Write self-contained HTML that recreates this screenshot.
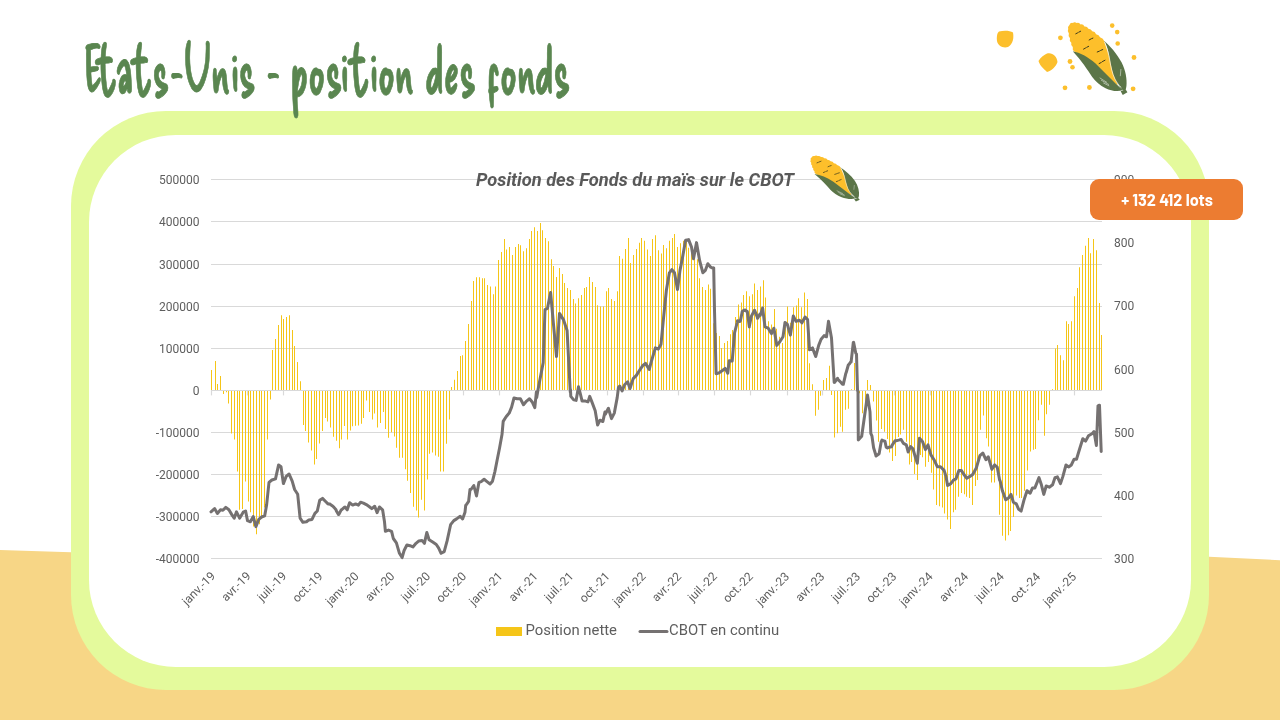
<!DOCTYPE html>
<html><head><meta charset="utf-8"><style>
html,body{margin:0;padding:0;width:1280px;height:720px;overflow:hidden;background:#fff;position:relative}
.abs{position:absolute}
#blob{left:0;top:0;width:1280px;height:720px}
#frame{left:71px;top:111px;width:1138px;height:579px;background:#e4fa9c;border-radius:95px}
#inner{left:89px;top:135px;width:1102px;height:532px;background:#fff;border-radius:87px}
svg text.tt{font-family:"Delicious Handrawn","Liberation Sans Narrow",sans-serif;font-size:67px;fill:#5a8650;stroke:#5a8650;stroke-width:0.8px}
svg text{font-family:Roboto,"Liberation Sans",sans-serif;white-space:pre}
.ax{font-size:12px;fill:#5e5e5e}
.ct{font-size:18.25px;font-weight:700;font-style:italic;fill:#595959}
.lg{font-size:14.85px;fill:#5e5e5e}
svg text.bd{font-family:Barlow,"Liberation Sans",sans-serif;font-weight:700;font-size:16.3px;fill:#fff}
</style></head><body>
<svg id="blob" class="abs" width="1280" height="720" viewBox="0 0 1280 720"><path fill="#f7d686" d="M0 550 L71 552.3 L640 556 L1209 556.8 L1280 560.2 L1280 720 L0 720Z"/></svg>
<div id="frame" class="abs"></div>
<div id="inner" class="abs"></div>
<svg class="abs" style="left:0;top:0" width="1280" height="720" viewBox="0 0 1280 720">
<g stroke="#d9d9d9" stroke-width="1">
<line x1="211" y1="179.5" x2="1102" y2="179.5"/>
<line x1="211" y1="221.5" x2="1102" y2="221.5"/>
<line x1="211" y1="264.5" x2="1102" y2="264.5"/>
<line x1="211" y1="306.5" x2="1102" y2="306.5"/>
<line x1="211" y1="348.5" x2="1102" y2="348.5"/>
<line x1="211" y1="390.5" x2="1102" y2="390.5"/>
<line x1="211" y1="432.5" x2="1102" y2="432.5"/>
<line x1="211" y1="474.5" x2="1102" y2="474.5"/>
<line x1="211" y1="516.5" x2="1102" y2="516.5"/>
<line x1="211" y1="558.5" x2="1102" y2="558.5"/>
</g>
<g stroke="#d9d9d9" stroke-width="1.2">
<line x1="211.5" y1="390.4" x2="211.5" y2="395.4"/>
<line x1="247.5" y1="390.4" x2="247.5" y2="395.4"/>
<line x1="283.5" y1="390.4" x2="283.5" y2="395.4"/>
<line x1="319.5" y1="390.4" x2="319.5" y2="395.4"/>
<line x1="355.5" y1="390.4" x2="355.5" y2="395.4"/>
<line x1="391.5" y1="390.4" x2="391.5" y2="395.4"/>
<line x1="427.5" y1="390.4" x2="427.5" y2="395.4"/>
<line x1="463.5" y1="390.4" x2="463.5" y2="395.4"/>
<line x1="499.5" y1="390.4" x2="499.5" y2="395.4"/>
<line x1="535.5" y1="390.4" x2="535.5" y2="395.4"/>
<line x1="571.5" y1="390.4" x2="571.5" y2="395.4"/>
<line x1="607.5" y1="390.4" x2="607.5" y2="395.4"/>
<line x1="643.5" y1="390.4" x2="643.5" y2="395.4"/>
<line x1="678.5" y1="390.4" x2="678.5" y2="395.4"/>
<line x1="714.5" y1="390.4" x2="714.5" y2="395.4"/>
<line x1="750.5" y1="390.4" x2="750.5" y2="395.4"/>
<line x1="787.5" y1="390.4" x2="787.5" y2="395.4"/>
<line x1="822.5" y1="390.4" x2="822.5" y2="395.4"/>
<line x1="858.5" y1="390.4" x2="858.5" y2="395.4"/>
<line x1="894.5" y1="390.4" x2="894.5" y2="395.4"/>
<line x1="930.5" y1="390.4" x2="930.5" y2="395.4"/>
<line x1="966.5" y1="390.4" x2="966.5" y2="395.4"/>
<line x1="1002.5" y1="390.4" x2="1002.5" y2="395.4"/>
<line x1="1038.5" y1="390.4" x2="1038.5" y2="395.4"/>
<line x1="1074.5" y1="390.4" x2="1074.5" y2="395.4"/>
</g>
<path fill="#f5c518" d="M211 369.9V390h1V369.9zM215 361.0V390h1V361.0zM217 383.9V390h1V383.9zM220 376.0V390h1V376.0zM223 391V394.0h1V391zM226 391V392.3h1V391zM228 391V403.5h1V391zM231 391V433.4h1V391zM234 391V439.4h1V391zM237 391V471.6h1V391zM239 391V509.8h1V391zM242 391V509.1h1V391zM245 391V481.6h1V391zM248 391V501.5h1V391zM250 391V512.2h1V391zM253 391V526.6h1V391zM256 391V534.2h1V391zM259 391V524.2h1V391zM261 391V517.0h1V391zM264 391V507.4h1V391zM267 391V439.4h1V391zM270 391V399.5h1V391zM272 349.9V390h1V349.9zM275 339.1V390h1V339.1zM278 325.1V390h1V325.1zM281 315.2V390h1V315.2zM283 319.1V390h1V319.1zM286 316.9V390h1V316.9zM289 315.2V390h1V315.2zM292 330.1V390h1V330.1zM294 345.9V390h1V345.9zM297 362.0V390h1V362.0zM300 381.2V390h1V381.2zM303 391V425.0h1V391zM305 391V431.0h1V391zM308 391V442.5h1V391zM311 391V450.6h1V391zM314 391V464.4h1V391zM316 391V459.0h1V391zM319 391V443.4h1V391zM322 391V431.0h1V391zM325 391V417.9h1V391zM327 391V421.4h1V391zM330 391V427.4h1V391zM333 391V436.7h1V391zM336 391V440.8h1V391zM339 391V448.3h1V391zM341 391V439.4h1V391zM344 391V426.0h1V391zM347 391V439.4h1V391zM350 391V430.5h1V391zM352 391V426.2h1V391zM355 391V425.8h1V391zM358 391V425.5h1V391zM361 391V423.8h1V391zM363 391V417.9h1V391zM366 391V400.4h1V391zM369 391V411.9h1V391zM372 391V419.5h1V391zM374 391V413.6h1V391zM377 391V427.4h1V391zM380 391V422.9h1V391zM383 391V411.9h1V391zM385 391V429.1h1V391zM388 391V437.7h1V391zM391 391V432.2h1V391zM394 391V436.5h1V391zM396 391V447.7h1V391zM399 391V457.8h1V391zM402 391V457.8h1V391zM405 391V469.2h1V391zM407 391V480.7h1V391zM410 391V493.1h1V391zM413 391V506.7h1V391zM416 391V510.6h1V391zM418 391V517.5h1V391zM421 391V499.8h1V391zM424 391V510.6h1V391zM427 391V479.5h1V391zM429 391V453.7h1V391zM432 391V452.5h1V391zM435 391V455.6h1V391zM438 391V456.8h1V391zM440 391V471.6h1V391zM443 391V471.6h1V391zM446 391V443.7h1V391zM449 391V419.5h1V391zM451 387.1V390h1V387.1zM454 379.8V390h1V379.8zM457 371.0V390h1V371.0zM460 356.1V390h1V356.1zM462 355.2V390h1V355.2zM465 341.1V390h1V341.1zM468 324.0V390h1V324.0zM471 301.1V390h1V301.1zM473 280.9V390h1V280.9zM476 277.2V390h1V277.2zM479 277.2V390h1V277.2zM482 278.2V390h1V278.2zM484 278.2V390h1V278.2zM487 285.1V390h1V285.1zM490 286.4V390h1V286.4zM493 294.2V390h1V294.2zM495 286.4V390h1V286.4zM498 260.0V390h1V260.0zM501 251.9V390h1V251.9zM504 239.1V390h1V239.1zM506 249.4V390h1V249.4zM509 247.0V390h1V247.0zM512 255.1V390h1V255.1zM515 247.0V390h1V247.0zM518 244.0V390h1V244.0zM520 245.3V390h1V245.3zM523 251.2V390h1V251.2zM526 248.2V390h1V248.2zM529 239.1V390h1V239.1zM531 231.0V390h1V231.0zM534 227.3V390h1V227.3zM537 231.0V390h1V231.0zM540 223.1V390h1V223.1zM542 230.2V390h1V230.2zM545 237.9V390h1V237.9zM548 241.3V390h1V241.3zM551 259.3V390h1V259.3zM553 265.9V390h1V265.9zM556 277.0V390h1V277.0zM559 267.9V390h1V267.9zM562 274.1V390h1V274.1zM564 283.1V390h1V283.1zM567 288.1V390h1V288.1zM570 290.0V390h1V290.0zM573 299.1V390h1V299.1zM575 303.6V390h1V303.6zM578 298.2V390h1V298.2zM581 295.0V390h1V295.0zM584 288.1V390h1V288.1zM586 286.9V390h1V286.9zM589 277.0V390h1V277.0zM592 281.9V390h1V281.9zM595 287.1V390h1V287.1zM597 305.3V390h1V305.3zM600 306.5V390h1V306.5zM603 306.5V390h1V306.5zM606 291.3V390h1V291.3zM608 288.1V390h1V288.1zM611 299.1V390h1V299.1zM614 301.1V390h1V301.1zM617 291.3V390h1V291.3zM619 256.1V390h1V256.1zM622 258.8V390h1V258.8zM625 248.9V390h1V248.9zM628 237.9V390h1V237.9zM630 263.0V390h1V263.0zM633 254.9V390h1V254.9zM636 248.9V390h1V248.9zM639 242.8V390h1V242.8zM641 237.9V390h1V237.9zM644 240.8V390h1V240.8zM647 249.4V390h1V249.4zM650 256.1V390h1V256.1zM652 239.1V390h1V239.1zM655 235.2V390h1V235.2zM658 250.2V390h1V250.2zM661 253.6V390h1V253.6zM663 245.0V390h1V245.0zM666 248.2V390h1V248.2zM669 240.8V390h1V240.8zM672 237.9V390h1V237.9zM674 233.9V390h1V233.9zM677 247.0V390h1V247.0zM680 243.3V390h1V243.3zM683 240.8V390h1V240.8zM686 239.1V390h1V239.1zM688 247.7V390h1V247.7zM691 251.9V390h1V251.9zM694 254.4V390h1V254.4zM697 259.3V390h1V259.3zM699 278.2V390h1V278.2zM702 287.1V390h1V287.1zM705 290.0V390h1V290.0zM708 284.4V390h1V284.4zM710 288.8V390h1V288.8zM713 323.3V390h1V323.3zM716 333.1V390h1V333.1zM719 336.1V390h1V336.1zM721 347.9V390h1V347.9zM724 342.9V390h1V342.9zM727 341.0V390h1V341.0zM730 334.3V390h1V334.3zM732 330.1V390h1V330.1zM735 317.1V390h1V317.1zM738 304.4V390h1V304.4zM741 302.4V390h1V302.4zM743 295.0V390h1V295.0zM746 291.3V390h1V291.3zM749 296.2V390h1V296.2zM752 294.2V390h1V294.2zM754 283.4V390h1V283.4zM757 290.0V390h1V290.0zM760 286.4V390h1V286.4zM763 280.2V390h1V280.2zM765 297.4V390h1V297.4zM768 321.3V390h1V321.3zM771 324.5V390h1V324.5zM774 309.0V390h1V309.0zM776 328.7V390h1V328.7zM779 336.8V390h1V336.8zM782 342.9V390h1V342.9zM785 326.9V390h1V326.9zM787 306.5V390h1V306.5zM790 322.8V390h1V322.8zM793 307.3V390h1V307.3zM796 305.5V390h1V305.5zM798 298.2V390h1V298.2zM801 307.3V390h1V307.3zM804 292.5V390h1V292.5zM807 299.1V390h1V299.1zM809 363.2V390h1V363.2zM812 384.2V390h1V384.2zM815 391V415.8h1V391zM818 391V409.7h1V391zM820 391V395.8h1V391zM823 380.0V390h1V380.0zM826 378.0V390h1V378.0zM829 365.8V390h1V365.8zM831 391V395.0h1V391zM834 391V437.5h1V391zM837 391V433.3h1V391zM840 391V426.7h1V391zM842 391V431.7h1V391zM845 391V409.7h1V391zM848 391V408.7h1V391zM851 389.2V390h1V389.2zM854 363.0V390h1V363.0zM856 381.7V390h1V381.7zM859 391V393.3h1V391zM862 391V413.3h1V391zM865 391V403.3h1V391zM867 380.0V390h1V380.0zM870 385.0V390h1V385.0zM873 391V401.4h1V391zM876 391V420.5h1V391zM878 391V441.7h1V391zM881 391V428.9h1V391zM884 391V431.8h1V391zM887 391V438.9h1V391zM889 391V452.5h1V391zM892 391V460.9h1V391zM895 391V456.1h1V391zM898 391V437.0h1V391zM900 391V434.6h1V391zM903 391V429.8h1V391zM906 391V441.8h1V391zM909 391V464.4h1V391zM911 391V462.1h1V391zM914 391V474.0h1V391zM917 391V480.0h1V391zM920 391V454.9h1V391zM922 391V457.3h1V391zM925 391V466.8h1V391zM928 391V462.1h1V391zM931 391V472.8h1V391zM933 391V489.5h1V391zM936 391V505.1h1V391zM939 391V506.3h1V391zM942 391V507.4h1V391zM944 391V513.4h1V391zM947 391V519.4h1V391zM950 391V529.0h1V391zM953 391V512.2h1V391zM955 391V509.8h1V391zM958 391V496.7h1V391zM961 391V493.1h1V391zM964 391V494.3h1V391zM966 391V496.7h1V391zM969 391V497.9h1V391zM972 391V505.1h1V391zM975 391V485.9h1V391zM977 391V480.0h1V391zM980 391V429.8h1V391zM983 391V415.5h1V391zM986 391V438.2h1V391zM988 391V446.5h1V391zM991 391V482.4h1V391zM994 391V482.4h1V391zM997 391V472.8h1V391zM999 391V514.7h1V391zM1002 391V535.7h1V391zM1005 391V540.5h1V391zM1008 391V535.3h1V391zM1010 391V531.0h1V391zM1013 391V517.1h1V391zM1016 391V495.6h1V391zM1019 391V498.0h1V391zM1021 391V498.0h1V391zM1024 391V490.8h1V391zM1027 391V470.5h1V391zM1030 391V451.4h1V391zM1033 391V449.7h1V391zM1035 391V449.0h1V391zM1038 391V420.3h1V391zM1041 391V404.7h1V391zM1044 391V435.8h1V391zM1046 391V414.3h1V391zM1049 391V404.7h1V391zM1052 389.3V390h1V389.3zM1055 348.4V390h1V348.4zM1057 345.0V390h1V345.0zM1060 355.3V390h1V355.3zM1063 360.2V390h1V360.2zM1066 321.3V390h1V321.3zM1068 324.1V390h1V324.1zM1071 321.3V390h1V321.3zM1074 296.2V390h1V296.2zM1077 288.1V390h1V288.1zM1079 267.2V390h1V267.2zM1082 254.9V390h1V254.9zM1085 245.8V390h1V245.8zM1088 237.9V390h1V237.9zM1090 253.2V390h1V253.2zM1093 239.1V390h1V239.1zM1096 250.2V390h1V250.2zM1099 303.1V390h1V303.1zM1101 335.1V390h1V335.1z"/>
<polyline fill="none" stroke="#757171" stroke-width="3" stroke-linejoin="round" stroke-linecap="round" points="211.0,511.8 214.6,508.6 217.4,513.4 220.5,509.8 222.9,510.3 225.8,507.4 228.9,509.8 231.8,514.6 234.2,518.2 236.5,511.8 239.6,518.2 243.2,512.2 245.6,511.0 247.5,520.6 250.4,521.8 253.3,516.5 255.9,526.6 258.8,519.4 261.6,517.0 264.7,515.8 266.6,505.1 269.0,482.4 271.9,480.0 275.5,478.8 278.6,464.9 281.0,466.8 283.4,483.6 286.2,476.4 289.1,474.0 292.2,481.2 294.6,489.5 297.7,494.3 300.1,518.2 302.9,522.3 306.5,521.8 308.9,519.9 312.0,519.4 314.9,513.4 317.3,511.0 319.7,500.3 322.5,498.4 325.6,501.5 328.0,503.9 330.0,503.9 330.4,504.6 332.9,506.3 334.0,507.4 336.0,509.8 336.4,511.0 338.6,514.6 338.8,514.6 341.2,509.8 341.5,509.8 344.3,507.4 345.0,507.0 347.2,509.8 349.6,502.7 352.7,505.1 355.6,503.9 358.4,505.1 360.6,502.2 363.4,503.1 366.3,504.6 369.4,506.7 371.8,508.6 374.7,506.3 377.1,512.7 379.4,507.0 382.6,509.8 384.5,521.8 385.4,531.3 388.5,530.1 391.6,531.3 393.3,538.5 396.4,542.8 399.3,552.9 402.1,557.6 404.1,550.5 406.9,545.0 410.0,545.7 412.9,546.9 416.0,543.3 418.9,540.9 422.0,540.4 424.4,543.3 426.8,532.5 429.1,539.7 432.7,542.1 436.3,544.5 438.7,548.1 441.1,553.3 444.2,551.6 447.1,540.9 450.6,524.7 453.8,520.6 456.6,518.9 460.2,516.3 462.6,518.9 465.0,512.2 465.7,505.5 466.9,503.9 468.1,502.2 468.6,501.5 470.0,489.5 471.0,489.5 473.8,485.5 476.5,496.0 478.9,482.4 481.2,481.6 484.1,479.3 487.0,481.6 490.1,484.0 492.5,481.2 494.9,471.6 497.2,459.7 499.6,447.7 502.0,434.6 503.2,421.4 506.1,416.7 509.2,413.1 511.6,407.1 514.0,398.0 517.1,398.8 520.4,398.8 523.5,404.7 526.6,401.1 529.5,398.8 532.4,402.3 534.8,407.6 536.4,392.1 536.7,397.6 538.1,389.2 543.2,362.6 545.0,309.7 547.4,308.5 550.6,292.5 553.6,325.7 556.5,356.5 559.5,313.4 563.4,319.6 567.1,330.6 570.3,392.1 570.4,389.2 570.8,396.4 573.7,399.9 576.1,400.4 578.5,386.8 580.1,392.8 582.1,401.1 585.6,401.1 588.0,401.9 589.7,396.4 591.6,401.1 595.2,410.7 597.6,425.0 600.0,420.2 602.4,421.4 602.9,421.4 605.0,411.9 605.3,414.3 608.4,408.3 611.5,418.6 614.3,413.1 617.2,397.6 618.5,387.2 619.7,386.0 622.1,390.9 624.6,384.8 627.6,381.8 630.0,388.5 633.2,378.6 636.4,375.4 639.4,370.5 643.1,365.1 645.5,363.4 649.2,369.5 651.7,360.2 655.4,347.9 658.3,349.1 661.0,344.2 663.5,318.3 666.4,290.0 669.4,272.8 671.9,269.6 674.5,272.8 677.5,289.6 680.0,270.4 682.4,258.1 685.6,240.3 688.6,239.6 691.5,247.0 693.5,258.8 696.5,242.6 699.6,260.5 702.9,272.8 705.3,270.4 707.8,263.7 710.7,267.2 713.3,268.5 713.7,267.9 714.5,310.4 716.1,373.8 719.1,372.8 722.1,370.8 725.2,368.4 727.8,373.2 729.2,360.7 732.2,361.1 734.6,332.6 737.2,322.5 737.5,320.8 739.9,321.5 740.4,320.8 742.3,311.4 743.6,310.5 745.3,310.0 746.1,311.0 747.3,311.4 749.3,326.9 749.3,326.5 751.3,316.4 752.2,314.6 754.4,310.4 754.7,310.5 757.4,317.4 757.6,318.3 760.0,314.0 760.3,315.4 762.6,308.0 765.0,326.9 768.2,328.2 771.4,333.6 773.9,328.2 776.8,345.4 779.8,341.7 783.0,336.8 785.0,322.5 787.4,324.5 790.4,335.1 793.3,315.9 796.0,321.3 799.5,320.3 801.9,322.8 805.1,317.1 807.6,319.6 809.5,349.8 812.5,347.9 815.7,356.5 818.7,345.4 821.1,339.2 824.1,335.6 826.5,336.8 828.5,321.3 831.5,338.0 834.2,382.5 834.6,382.3 837.5,378.3 837.9,379.4 840.8,382.3 842.5,384.2 843.3,384.3 845.8,373.3 846.2,372.5 848.3,365.0 849.4,363.9 850.8,361.7 851.1,362.1 853.3,342.5 853.6,342.4 855.8,353.3 856.5,354.0 857.5,390.0 858.0,392.1 858.3,440.0 861.7,436.3 867.5,395.0 870.0,411.9 870.8,433.3 871.9,435.8 873.6,447.7 875.8,455.0 876.0,456.1 879.1,453.7 879.2,453.3 881.2,441.8 882.0,440.0 883.9,441.0 885.0,441.3 886.2,447.2 887.5,448.0 889.1,447.2 891.7,446.7 892.0,445.3 895.0,440.8 895.1,441.0 898.7,440.1 901.1,439.4 903.5,443.4 906.3,444.9 908.2,452.0 910.6,446.5 913.0,448.9 915.4,457.3 917.3,463.3 919.5,438.2 922.6,441.8 925.4,449.6 928.0,444.9 930.9,454.9 934.0,459.7 937.4,466.8 940.5,466.8 944.1,470.4 946.0,476.4 947.6,485.5 950.8,483.6 953.6,480.0 956.0,478.8 958.9,470.4 961.3,470.4 963.6,474.0 966.8,478.3 969.9,476.4 972.7,474.5 976.3,468.0 979.9,455.6 982.8,453.0 985.9,459.7 988.3,456.8 991.8,469.2 991.9,469.3 994.7,464.9 994.8,465.0 996.6,466.8 997.2,466.9 999.6,480.0 1000.2,481.2 1002.4,490.8 1003.3,493.1 1005.5,499.2 1005.7,499.8 1007.9,498.4 1008.6,497.9 1010.0,496.0 1011.0,494.4 1013.4,502.3 1016.3,503.9 1018.7,509.4 1021.1,511.1 1023.9,500.4 1027.0,490.8 1030.2,493.2 1032.5,487.9 1034.9,487.9 1036.6,483.6 1039.0,477.6 1041.4,484.8 1043.8,494.4 1046.2,486.0 1049.3,487.2 1052.6,484.8 1055.0,477.6 1057.4,476.9 1060.5,483.6 1062.9,476.4 1066.0,465.0 1068.9,466.9 1071.3,465.0 1074.1,459.2 1076.5,459.2 1079.6,449.0 1082.8,438.7 1085.6,441.1 1088.5,435.8 1092.3,433.4 1094.0,431.5 1096.4,445.4 1098.0,405.9 1099.5,405.2 1101.2,451.4"/>
<g class="ax" text-anchor="end">
<text x="199.5" y="184.0" textLength="40.47" lengthAdjust="spacingAndGlyphs">500000</text>
<text x="199.5" y="226.0" textLength="40.47" lengthAdjust="spacingAndGlyphs">400000</text>
<text x="199.5" y="269.0" textLength="40.47" lengthAdjust="spacingAndGlyphs">300000</text>
<text x="199.5" y="311.0" textLength="40.47" lengthAdjust="spacingAndGlyphs">200000</text>
<text x="199.5" y="353.0" textLength="40.47" lengthAdjust="spacingAndGlyphs">100000</text>
<text x="199.5" y="395.0" textLength="6.75" lengthAdjust="spacingAndGlyphs">0</text>
<text x="199.5" y="437.0" textLength="43.78" lengthAdjust="spacingAndGlyphs">-100000</text>
<text x="199.5" y="479.0" textLength="43.78" lengthAdjust="spacingAndGlyphs">-200000</text>
<text x="199.5" y="521.0" textLength="43.78" lengthAdjust="spacingAndGlyphs">-300000</text>
<text x="199.5" y="563.0" textLength="43.78" lengthAdjust="spacingAndGlyphs">-400000</text>
</g><g class="ax">
<text x="1114" y="184.0" textLength="20.23" lengthAdjust="spacingAndGlyphs">900</text>
<text x="1114" y="247.2" textLength="20.23" lengthAdjust="spacingAndGlyphs">800</text>
<text x="1114" y="310.3" textLength="20.23" lengthAdjust="spacingAndGlyphs">700</text>
<text x="1114" y="373.5" textLength="20.23" lengthAdjust="spacingAndGlyphs">600</text>
<text x="1114" y="436.7" textLength="20.23" lengthAdjust="spacingAndGlyphs">500</text>
<text x="1114" y="499.8" textLength="20.23" lengthAdjust="spacingAndGlyphs">400</text>
<text x="1114" y="563.0" textLength="20.23" lengthAdjust="spacingAndGlyphs">300</text>
</g><g class="ax" text-anchor="end">
<text transform="translate(216.1,576.8) rotate(-45)" textLength="41.19" lengthAdjust="spacingAndGlyphs">janv.-19</text>
<text transform="translate(251.5,576.8) rotate(-45)" textLength="35.58" lengthAdjust="spacingAndGlyphs">avr.-19</text>
<text transform="translate(287.2,576.8) rotate(-45)" textLength="35.30" lengthAdjust="spacingAndGlyphs">juil.-19</text>
<text transform="translate(323.4,576.9) rotate(-45)" textLength="37.03" lengthAdjust="spacingAndGlyphs">oct.-19</text>
<text transform="translate(359.5,576.9) rotate(-45)" textLength="41.19" lengthAdjust="spacingAndGlyphs">janv.-20</text>
<text transform="translate(395.2,576.9) rotate(-45)" textLength="35.58" lengthAdjust="spacingAndGlyphs">avr.-20</text>
<text transform="translate(431.0,576.9) rotate(-45)" textLength="35.30" lengthAdjust="spacingAndGlyphs">juil.-20</text>
<text transform="translate(467.1,577.0) rotate(-45)" textLength="37.03" lengthAdjust="spacingAndGlyphs">oct.-20</text>
<text transform="translate(503.2,577.0) rotate(-45)" textLength="41.19" lengthAdjust="spacingAndGlyphs">janv.-21</text>
<text transform="translate(538.6,577.0) rotate(-45)" textLength="35.58" lengthAdjust="spacingAndGlyphs">avr.-21</text>
<text transform="translate(574.3,577.0) rotate(-45)" textLength="35.30" lengthAdjust="spacingAndGlyphs">juil.-21</text>
<text transform="translate(610.5,577.1) rotate(-45)" textLength="37.03" lengthAdjust="spacingAndGlyphs">oct.-21</text>
<text transform="translate(646.6,577.1) rotate(-45)" textLength="41.19" lengthAdjust="spacingAndGlyphs">janv.-22</text>
<text transform="translate(682.0,577.1) rotate(-45)" textLength="35.58" lengthAdjust="spacingAndGlyphs">avr.-22</text>
<text transform="translate(717.7,577.1) rotate(-45)" textLength="35.30" lengthAdjust="spacingAndGlyphs">juil.-22</text>
<text transform="translate(753.8,577.2) rotate(-45)" textLength="37.03" lengthAdjust="spacingAndGlyphs">oct.-22</text>
<text transform="translate(790.0,577.2) rotate(-45)" textLength="41.19" lengthAdjust="spacingAndGlyphs">janv.-23</text>
<text transform="translate(825.3,577.2) rotate(-45)" textLength="35.58" lengthAdjust="spacingAndGlyphs">avr.-23</text>
<text transform="translate(861.1,577.2) rotate(-45)" textLength="35.30" lengthAdjust="spacingAndGlyphs">juil.-23</text>
<text transform="translate(897.2,577.3) rotate(-45)" textLength="37.03" lengthAdjust="spacingAndGlyphs">oct.-23</text>
<text transform="translate(933.4,577.3) rotate(-45)" textLength="41.19" lengthAdjust="spacingAndGlyphs">janv.-24</text>
<text transform="translate(969.1,577.3) rotate(-45)" textLength="35.58" lengthAdjust="spacingAndGlyphs">avr.-24</text>
<text transform="translate(1004.8,577.3) rotate(-45)" textLength="35.30" lengthAdjust="spacingAndGlyphs">juil.-24</text>
<text transform="translate(1041.0,577.4) rotate(-45)" textLength="37.03" lengthAdjust="spacingAndGlyphs">oct.-24</text>
<text transform="translate(1077.1,577.4) rotate(-45)" textLength="41.19" lengthAdjust="spacingAndGlyphs">janv.-25</text>
</g>
<text class="ct" x="476" y="186" textLength="318.05" lengthAdjust="spacingAndGlyphs">Position des Fonds du maïs sur le CBOT</text>
<rect x="496" y="627" width="26" height="9" fill="#f5c518"/><text class="lg" x="525.5" y="635" textLength="91.48" lengthAdjust="spacingAndGlyphs">Position nette</text>
<line x1="640" y1="631.5" x2="667" y2="631.5" stroke="#757171" stroke-width="3" stroke-linecap="round"/><text class="lg" x="669" y="635" textLength="110.22" lengthAdjust="spacingAndGlyphs">CBOT en continu</text>
<rect x="1090" y="179" width="153" height="41" rx="9" fill="#ec7c31"/>
<text class="bd" x="1167" y="206" text-anchor="middle" textLength="91.70" lengthAdjust="spacingAndGlyphs">+ 132 412 lots</text>
<g transform="translate(84 0) scale(.683 1)"><text class="tt" x="0" y="94" textLength="712.53" lengthAdjust="spacingAndGlyphs">Etats-Unis - position des fonds</text></g>
<g transform="translate(809.9 155.7) scale(0.09200 0.07011) translate(-65 -40)">
<path fill="#fdbf2b" d="M130 302 Q108.5 287.3 115 262 Q94.2 246.6 102 222 Q81.6 206.3 90 182 Q70.4 164.5 80 140 Q62.2 122.2 74 100 Q65.1 76.8 85 62 Q92.3 40.1 115 44 Q133.4 30.0 150 46 Q172.4 37.8 185 58 Q209.4 53.7 220 76 Q244.9 73.0 255 96 Q281.0 95.6 290 120 Q316.4 121.0 325 146 Q351.9 148.3 360 174 Q390.3 182.1 400 212 L470 420 L520 610 L300 420Z"/>
<path fill="#5b7548" d="M115 300 C180 312 250 350 320 410 C380 468 440 530 500 590 C525 612 545 630 565 648 C520 668 460 655 410 632 C360 608 320 570 290 530 C250 470 190 380 115 300Z"/>
<path fill="#5b7548" d="M395 205 C450 250 510 320 555 400 C590 470 605 550 598 612 C596 632 590 648 585 655 L560 645 C530 610 500 570 480 510 C462 450 450 380 440 330 C432 285 420 245 395 205Z"/>
<path fill="none" stroke="#fff" stroke-width="6" stroke-linecap="round" d="M402 218 C420 260 438 320 448 380 C458 440 470 500 495 550 C510 580 528 602 548 622"/>
<path fill="#5b7548" d="M546 660 L590 642 L607 668 L565 692Z"/>
<g stroke="#3a3a1c" stroke-width="9" stroke-linecap="round" fill="none">
<path d="M142 142 L158 134 M168 128 L186 119"/>
<path d="M262 198 L276 190 M284 186 L296 181"/>
<path d="M212 280 L230 270 M240 264 L258 255"/>
<path d="M335 306 L355 298 M365 292 L385 284"/>
<path d="M352 410 L372 400 M382 392 L405 380"/>
</g>
<g stroke="#fff" stroke-width="5" stroke-linecap="round" fill="none" opacity=".85">
<path d="M360 540 L420 578 M372 560 L438 598 M392 585 L440 610"/>
<path d="M548 462 L543 520"/>
</g></g>
<g transform="translate(1060 18) scale(0.11111)">
<path fill="#fdbf2b" d="M130 302 Q108.5 287.3 115 262 Q94.2 246.6 102 222 Q81.6 206.3 90 182 Q70.4 164.5 80 140 Q62.2 122.2 74 100 Q65.1 76.8 85 62 Q92.3 40.1 115 44 Q133.4 30.0 150 46 Q172.4 37.8 185 58 Q209.4 53.7 220 76 Q244.9 73.0 255 96 Q281.0 95.6 290 120 Q316.4 121.0 325 146 Q351.9 148.3 360 174 Q390.3 182.1 400 212 L470 420 L520 610 L300 420Z"/>
<path fill="#5b7548" d="M115 300 C180 312 250 350 320 410 C380 468 440 530 500 590 C525 612 545 630 565 648 C520 668 460 655 410 632 C360 608 320 570 290 530 C250 470 190 380 115 300Z"/>
<path fill="#5b7548" d="M395 205 C450 250 510 320 555 400 C590 470 605 550 598 612 C596 632 590 648 585 655 L560 645 C530 610 500 570 480 510 C462 450 450 380 440 330 C432 285 420 245 395 205Z"/>
<path fill="none" stroke="#fff" stroke-width="6" stroke-linecap="round" d="M402 218 C420 260 438 320 448 380 C458 440 470 500 495 550 C510 580 528 602 548 622"/>
<path fill="#5b7548" d="M546 660 L590 642 L607 668 L565 692Z"/>
<g stroke="#3a3a1c" stroke-width="9" stroke-linecap="round" fill="none">
<path d="M142 142 L158 134 M168 128 L186 119"/>
<path d="M262 198 L276 190 M284 186 L296 181"/>
<path d="M212 280 L230 270 M240 264 L258 255"/>
<path d="M335 306 L355 298 M365 292 L385 284"/>
<path d="M352 410 L372 400 M382 392 L405 380"/>
</g>
<g stroke="#fff" stroke-width="5" stroke-linecap="round" fill="none" opacity=".85">
<path d="M360 540 L420 578 M372 560 L438 598 M392 585 L440 610"/>
<path d="M548 462 L543 520"/>
</g></g>
<g fill="#fcbf2c">
<path d="M999 31.5 C1004 30 1010 30.5 1013 32.5 C1014 38 1013 44 1008 47 C1003 48.5 998 46 997 41 C996.5 37 997 33 999 31.5Z"/>
<path d="M1047 53.5 C1052 52 1057 56 1057.5 62 C1056 67 1051 71 1047 72 C1044 69 1040 66 1038.5 61 C1041 57 1044 55 1047 53.5Z"/>
<circle cx="1060.4" cy="37.8" r="2.4"/><circle cx="1112.2" cy="25.6" r="2.3"/><circle cx="1117.2" cy="32.1" r="2.3"/><circle cx="1117.7" cy="43.5" r="2.3"/>
<circle cx="1134" cy="57.5" r="2.4"/><circle cx="1070" cy="61.5" r="2.4"/><circle cx="1072.5" cy="67.3" r="2.3"/><circle cx="1065" cy="87.8" r="2.4"/>
<circle cx="1089.4" cy="87.5" r="2.4"/><circle cx="1133.1" cy="88.8" r="2.4"/>
</g>
</svg>
</body></html>
